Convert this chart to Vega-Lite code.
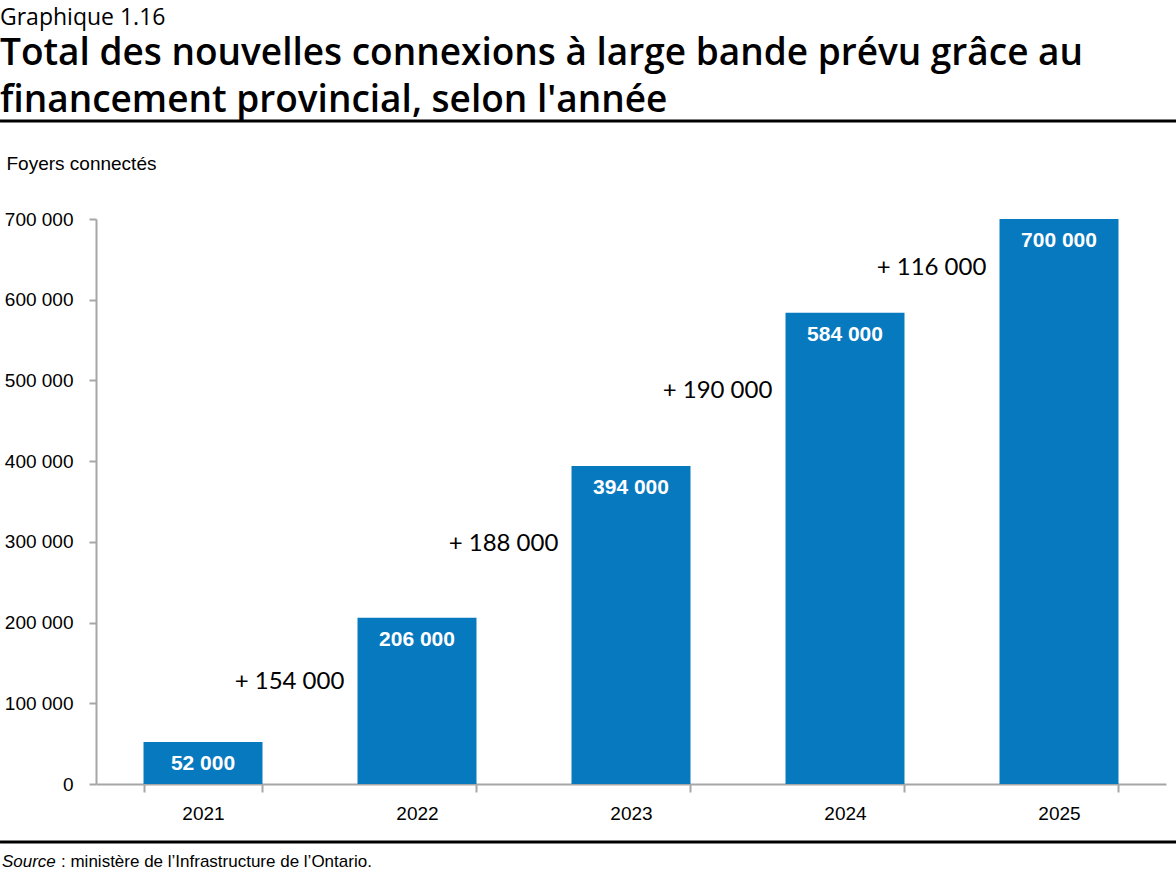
{
  "$schema": "https://vega.github.io/schema/vega-lite/v6.json",
  "autosize": "none",
  "width": 1070,
  "height": 565,
  "padding": {"left": 96, "top": 219, "right": 10, "bottom": 104},
  "background": "white",
  "config": {"view": {"stroke": null}},
  "title": {
    "text": "Graphique 1.16",
    "subtitle": ["Total des nouvelles connexions à large bande prévu grâce au", "financement provincial, selon l'année"],
    "anchor": "start",
    "frame": "group",
    "dx": -96,
    "offset": 1,
    "font": "Open Sans",
    "fontSize": 23,
    "fontWeight": "normal",
    "color": "black",
    "subtitleFont": "Open Sans",
    "subtitleFontSize": 37,
    "subtitleFontWeight": 600,
    "subtitleColor": "black",
    "subtitleLineHeight": 47,
    "subtitlePadding": 6
  },
  "datasets": {
    "totals": [
      {"year": "2021", "value": 52000, "label": "52 000"},
      {"year": "2022", "value": 206000, "label": "206 000"},
      {"year": "2023", "value": 394000, "label": "394 000"},
      {"year": "2024", "value": 584000, "label": "584 000"},
      {"year": "2025", "value": 700000, "label": "700 000"}
    ],
    "increments": [
      {"year": "2022", "from": 52000, "to": 206000, "label": "+ 154 000"},
      {"year": "2023", "from": 206000, "to": 394000, "label": "+ 188 000"},
      {"year": "2024", "from": 394000, "to": 584000, "label": "+ 190 000"},
      {"year": "2025", "from": 584000, "to": 700000, "label": "+ 116 000"}
    ]
  },
  "layer": [
    {
      "layer": [
        {
          "data": {"name": "totals"},
          "mark": {"type": "bar", "color": "#0779BF"},
          "encoding": {
            "x": {
              "field": "year", "type": "nominal",
              "scale": {"paddingInner": 0.444, "paddingOuter": 0.222},
              "axis": {
                "title": null, "labelAngle": 0, "labelFont": "Liberation Sans", "labelFontSize": 19,
                "labelColor": "black", "labelPadding": 12, "domainColor": "#A6A6A6", "domainWidth": 2,
                "tickColor": "#A6A6A6", "tickWidth": 2, "tickSize": 8, "tickBand": "extent"
              }
            },
            "y": {
              "field": "value", "type": "quantitative",
              "scale": {"domain": [0, 700000], "nice": false},
              "axis": {
                "title": "Foyers connectés", "titleAngle": 0, "titleAlign": "left", "titleBaseline": "alphabetic",
                "titleX": -90, "titleY": -50, "titleFont": "Liberation Sans", "titleFontSize": 19,
                "titleFontWeight": "normal", "titleColor": "black",
                "values": [0, 100000, 200000, 300000, 400000, 500000, 600000, 700000],
                "format": ",d", "labelExpr": "replace(datum.label, /,/g, ' ')",
                "labelFont": "Liberation Sans", "labelFontSize": 19, "labelColor": "black", "labelPadding": 16,
                "grid": false, "domainColor": "#A6A6A6", "domainWidth": 2,
                "tickColor": "#A6A6A6", "tickWidth": 2, "tickSize": 7
              }
            }
          }
        },
        {
          "data": {"name": "totals"},
          "mark": {"type": "text", "color": "white", "font": "Liberation Sans", "fontWeight": "bold", "fontSize": 21, "baseline": "alphabetic", "dy": 28},
          "encoding": {
            "x": {"field": "year", "type": "nominal"},
            "y": {"field": "value", "type": "quantitative"},
            "text": {"field": "label"}
          }
        },
        {
          "data": {"name": "increments"},
          "transform": [{"fold": ["from", "to"], "as": ["end", "amount"]}],
          "mark": {"type": "text", "color": "black", "font": "Lato", "fontSize": 24, "align": "center", "baseline": "middle", "dx": -68, "dy": 2},
          "encoding": {
            "x": {"field": "year", "type": "nominal", "bandPosition": 0},
            "y": {"aggregate": "mean", "field": "amount", "type": "quantitative"},
            "text": {"field": "label"}
          }
        }
      ]
    },
    {
      "data": {"values": [{}]},
      "mark": {"type": "rule", "color": "black", "strokeWidth": 3},
      "encoding": {
        "x": {"datum": -0.0897, "type": "quantitative", "scale": {"domain": [0, 1]}, "axis": null},
        "x2": {"datum": 1.0094},
        "y": {"datum": 821400, "type": "quantitative"}
      }
    },
    {
      "data": {"values": [{}]},
      "mark": {"type": "rule", "color": "black", "strokeWidth": 3},
      "encoding": {
        "x": {"datum": -0.0897, "type": "quantitative", "scale": {"domain": [0, 1]}, "axis": null},
        "x2": {"datum": 1.0094},
        "y": {"datum": -71860, "type": "quantitative"}
      }
    },
    {
      "data": {"values": [{}]},
      "mark": {"type": "text", "color": "black", "font": "Liberation Sans", "fontSize": 17, "fontStyle": "italic", "align": "left", "baseline": "middle"},
      "encoding": {
        "x": {"datum": -0.0879, "type": "quantitative", "scale": {"domain": [0, 1]}, "axis": null},
        "y": {"datum": -97000, "type": "quantitative"},
        "text": {"value": "Source"}
      }
    },
    {
      "data": {"values": [{}]},
      "mark": {"type": "text", "color": "black", "font": "Liberation Sans", "fontSize": 17, "align": "left", "baseline": "middle"},
      "encoding": {
        "x": {"datum": -0.0327, "type": "quantitative", "scale": {"domain": [0, 1]}, "axis": null},
        "y": {"datum": -97000, "type": "quantitative"},
        "text": {"value": ": ministère de l’Infrastructure de l’Ontario."}
      }
    }
  ],
  "resolve": {"scale": {"x": "independent"}}
}
